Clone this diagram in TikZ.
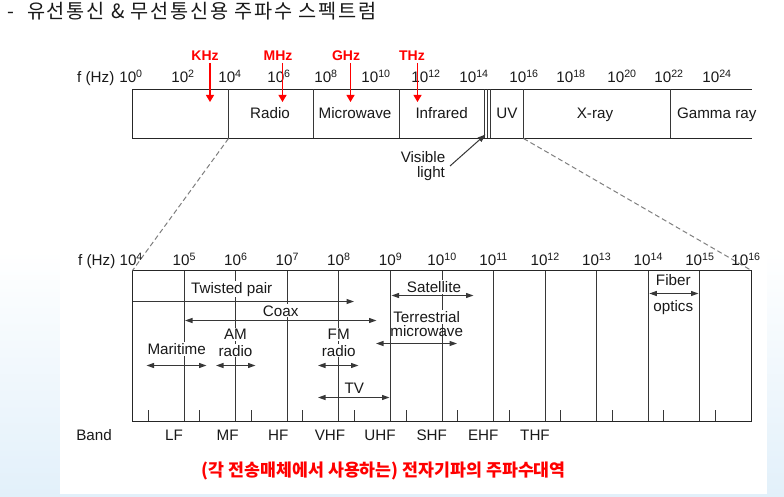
\documentclass[tikz,border=0pt]{standalone}
\usepackage{fontspec}
\setmainfont{Liberation Sans}
\newfontfamily\kr{Noto Sans CJK KR}
\newfontfamily\krtitle{Noto Sans CJK KR}[LetterSpace=9]
\usetikzlibrary{arrows.meta}
\definecolor{bgblue}{RGB}{226,240,250}
\definecolor{lgray}{RGB}{55,55,55}
\definecolor{txt}{RGB}{25,25,25}
\begin{document}
\begin{tikzpicture}[x=1pt,y=-1pt,
  lbl/.style={font=\fontsize{15.2}{18}\selectfont, text=txt, inner sep=0pt, anchor=base},
  mlbl/.style={lbl, fill=white, inner sep=1.2pt},
  redlbl/.style={font=\fontsize{14}{16}\selectfont\bfseries, text=red, inner sep=0pt, anchor=base},
  vline/.style={draw=lgray, line width=1.1pt},
  boxline/.style={draw=black!85, line width=1.3pt},
  dbl/.style={vline, {Triangle[length=7.5pt,width=5pt]}-{Triangle[length=7.5pt,width=5pt]}},
  sgl/.style={vline, -{Triangle[length=7.5pt,width=5pt]}},
  redarr/.style={draw=red, line width=1.1pt, -{Triangle[length=7pt,width=8pt]}},
  dashline/.style={draw=gray, line width=1pt, dash pattern=on 5pt off 3pt}
]
\useasboundingbox (0,0) rectangle (784,497);
% background
\fill[white] (0,0) rectangle (784,497);
\shade[top color=white, bottom color=bgblue] (0,250) rectangle (784,497);
\fill[white] (60,0) rectangle (767,494);

% title
\node[anchor=base west, inner sep=0pt, font=\krtitle\fontsize{19.7}{22}\selectfont, text=txt] (title) at (7,19) {-\hspace{13pt}유선통신 \& 무선통신용 주파수 스펙트럼};

% ---------------- top spectrum bar ----------------
\coordinate (TL) at (132.5,89.5);
\coordinate (TR) at (751.7,89.5);
\coordinate (BL) at (132.5,138.5);
\coordinate (BR) at (751.7,138.5);
\draw[boxline] (TR) -- (TL) -- (BL) -- (BR);
\foreach \nm/\xx in {d4/228.5, d7/313.5, d12/399.5, dv1/484.5, dv2/487.5, duv/490.5, dx/523.5, dg/670.5}{
  \coordinate (\nm t) at (\xx,89.5);
  \coordinate (\nm b) at (\xx,138.5);
  \draw[vline] (\nm t) -- (\nm b);
}
\node[lbl, anchor=base west] (fhz1) at (77,83) {f (Hz)};
\foreach \nm/\xx/\ee in {e0/131/0, e2/183/2, e4/230/4, e6/279/6, e8/326/8, e10/376/10, e12/426/12, e14/474/14, e16/524/16, e18/571/18, e20/622/20, e22/669/22, e24/717/24}{
  \node[lbl] (\nm) at (\xx,83) {10\textsuperscript{\ee}};
}
\node[lbl] (radio) at (270,119) {Radio};
\node[lbl] (micro) at (355,119) {Microwave};
\node[lbl] (infra) at (441.7,119) {Infrared};
\node[lbl] (uv) at (507,119) {UV};
\node[lbl] (xray) at (595,119) {X-ray};
\node[lbl] (gamma) at (716.7,119) {Gamma ray};

% red unit labels
\node[redlbl] (khz) at (205,60.5) {KHz};
\node[redlbl] (mhz) at (278,60.5) {MHz};
\node[redlbl] (ghz) at (346,60.5) {GHz};
\node[redlbl] (thz) at (412,60.5) {THz};
\foreach \nm/\xx in {k/210, m/282.5, g/350.5, t/417.5}{
  \coordinate (\nm a1) at (\xx,63);
  \coordinate (\nm a2) at (\xx,102);
  \draw[redarr] (\nm a1) -- (\nm a2);
}

% visible light
\node[lbl] (vis1) at (423,162.5) {Visible};
\node[lbl] (vis2) at (431,178) {light};
\coordinate (va1) at (450,166);
\coordinate (va2) at (485.5,134.5);
\draw[vline, line width=1pt, -{Triangle[length=8pt,width=5.5pt]}] (va1) -- (va2);

% ---------------- bottom chart ----------------
\foreach \n/\xx in {4/132.5, 5/184.5, 6/235.5, 7/287.5, 8/338.5, 9/390.5, 10/442.5, 11/493.5, 12/545.5, 13/596.5, 14/648.5, 15/699.5, 16/751.5}{
  \coordinate (t\n) at (\xx,270.5);
  \coordinate (b\n) at (\xx,421.5);
}
\foreach \n in {5,...,15}{
  \draw[vline] (t\n) -- (b\n);
}
\foreach \n/\xx in {4/148.5, 5/199.5, 6/251.5, 7/302.5, 8/354.5, 9/406.5, 10/457.5, 11/509.5, 12/560.5, 13/612.5, 14/663.5, 15/715.5}{
  \coordinate (k\n) at (\xx,421.5);
  \coordinate (kk\n) at (\xx,409.5);
  \draw[vline] (k\n) -- (kk\n);
}
\draw[boxline] (t4) rectangle (b16);

% dashed zoom lines
\draw[dashline] (d4b) -- (t4);
\draw[dashline] (dxb) -- (t16);

% axis labels
\node[lbl, anchor=base west] (fhz2) at (78,265.5) {f (Hz) 10\textsuperscript{4}};
\foreach \n/\xx in {5/184.3, 6/235.8, 7/287.4, 8/338.9, 9/390.5, 10/442.1, 11/493.6, 12/545.2, 13/596.7, 14/648.3, 15/699.9, 16/746}{
  \node[lbl] (ll\n) at (\xx,265.5) {10\textsuperscript{\n}};
}
\node[lbl] (band) at (94,440) {Band};
\foreach \nm/\xx/\tt in {lf/174/LF, mf/227.7/MF, hf/278.3/HF, vhf/330/VHF, uhf/380/UHF, shf/431.7/SHF, ehf/483.3/EHF, thf/535/THF}{
  \node[lbl] (\nm) at (\xx,440) {\tt};
}

% media labels (white background hides lines)
\node[mlbl] (tp) at (231.7,293) {Twisted pair};
\node[mlbl] (coax) at (280.7,316) {Coax};
\node[mlbl] (mar) at (176.7,354.7) {Maritime};
\node[mlbl] (am1) at (235.5,339.7) {AM};
\node[mlbl] (am2) at (235.5,356) {radio};
\node[mlbl] (fm1) at (338.7,339.7) {FM};
\node[mlbl] (fm2) at (338.7,356) {radio};
\node[mlbl] (tv) at (354.3,393) {TV};
\node[mlbl] (sat) at (434,292.7) {Satellite};
\node[mlbl] (ter1) at (426.7,322.7) {Terrestrial};
\node[lbl] (ter2) at (426.7,336.7) {microwave};
\node[lbl] (fib1) at (673.3,285) {Fiber};
\node[lbl] (fib2) at (673.3,311) {optics};

% arrows
\coordinate (tpa) at (132.7,301.5);   \coordinate (tpb) at (354,301.5);
\coordinate (cxa) at (185,320.5);     \coordinate (cxb) at (376.5,320.5);
\coordinate (mra) at (146.5,365.5);   \coordinate (mrb) at (206.5,365.5);
\coordinate (ama) at (216,365.5);     \coordinate (amb) at (255.5,365.5);
\coordinate (fma) at (318,365.5);     \coordinate (fmb) at (358.5,365.5);
\coordinate (tva) at (318,397.5);     \coordinate (tvb) at (389.5,397.5);
\coordinate (tra) at (376,343.5);     \coordinate (trb) at (457,343.5);
\coordinate (sta) at (391.5,295.5);   \coordinate (stb) at (473.5,295.5);
\coordinate (fba) at (649.3,293.5);   \coordinate (fbb) at (698.5,293.5);
\draw[sgl] (tpa) -- (tpb);
\draw[dbl] (cxa) -- (cxb);
\draw[dbl] (mra) -- (mrb);
\draw[dbl] (ama) -- (amb);
\draw[dbl] (fma) -- (fmb);
\draw[dbl] (tva) -- (tvb);
\draw[dbl] (tra) -- (trb);
\draw[dbl] (sta) -- (stb);
\draw[dbl] (fba) -- (fbb);

% caption
\node[anchor=base west, inner sep=0pt, font=\kr\bfseries\fontsize{17.3}{20}\selectfont, text=red] (cap) at (201.7,476) {(각 전송매체에서 사용하는) 전자기파의 주파수대역};
\end{tikzpicture}
\end{document}
